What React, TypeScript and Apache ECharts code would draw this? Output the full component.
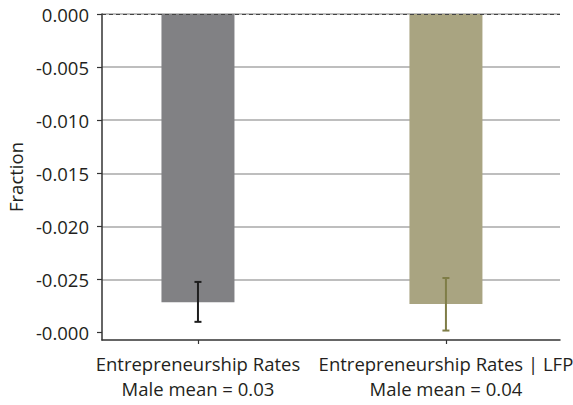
import React, { useEffect, useRef } from "react";
import * as echarts from "echarts";

// Regression coefficients (female minus male) with 95% confidence intervals
const categories = ["Entrepreneurship Rates", "Entrepreneurship Rates | LFP"];
const maleMeans = ["0.03", "0.04"];
const coefficients = [-0.02715, -0.0273];
const ciLow = [-0.02899, -0.02981];
const ciHigh = [-0.02523, -0.02486];

const yTickValues = [0, -0.005, -0.01, -0.015, -0.02, -0.025, -0.03];
const yTickLabels = ["0.000", "-0.005", "-0.010", "-0.015", "-0.020", "-0.025", "-0.000"];

const barColors = ["#818184", "#a9a481"];
const errorColors = ["#1e1e1e", "#7f7d47"];

const FONT = "'Open Sans', sans-serif";
const TEXT = "#231f20";
const FS = 18.5;

export default function App() {
  const ref = useRef<HTMLDivElement>(null);

  useEffect(() => {
    document.body.style.margin = "0";
    if (!ref.current) return;
    const chart = echarts.init(ref.current, undefined, { renderer: "svg" });

    const xPos = categories.map((_, i) => i + 1);

    chart.setOption({
      animation: false,
      textStyle: { fontFamily: FONT },
      grid: {
        left: 102,
        right: 13,
        top: 14,
        bottom: 65,
        containLabel: false,
        outerBoundsMode: "none",
      },
      xAxis: {
        type: "value",
        min: 0.613,
        max: 2.46,
        axisLine: { show: true, onZero: false, lineStyle: { color: "#333", width: 1.5 } },
        axisTick: { show: true, customValues: xPos, length: 4, lineStyle: { color: "#333", width: 1.2 } },
        axisLabel: {
          customValues: xPos,
          margin: 11,
          color: TEXT,
          fontSize: FS,
          fontFamily: FONT,
          lineHeight: 25,
          formatter: (v: number) => {
            const i = Math.round(v) - 1;
            return `${categories[i]}\nMale mean = ${maleMeans[i]}`;
          },
        },
        splitLine: { show: false },
      },
      yAxis: {
        type: "value",
        min: -0.0307,
        max: 0,
        name: "Fraction",
        nameLocation: "middle",
        nameGap: 75,
        nameTextStyle: { color: TEXT, fontSize: FS, fontFamily: FONT },
        axisLine: { show: true, lineStyle: { color: "#333", width: 1.5 } },
        axisTick: { show: true, customValues: yTickValues, length: 5, lineStyle: { color: "#333", width: 1.2 } },
        axisLabel: {
          customValues: yTickValues,
          margin: 13,
          color: TEXT,
          fontSize: FS,
          fontFamily: FONT,
          formatter: (v: number) => {
            const i = yTickValues.findIndex((t) => Math.abs(t - v) < 1e-7);
            return i >= 0 ? yTickLabels[i] : "";
          },
        },
        splitLine: {
          show: true,
          showMaxLine: false,
          lineStyle: { color: "#a9a9a9", width: 1.5 },
        },
      },
      series: [
        {
          type: "bar",
          barWidth: 73,
          data: coefficients.map((v, i) => ({
            value: [xPos[i], v],
            itemStyle: { color: barColors[i] },
          })),
          markLine: {
            silent: true,
            symbol: "none",
            label: { show: false },
            lineStyle: { color: "#444", type: [4, 3], width: 1.1 },
            data: [{ yAxis: 0 }],
          },
        },
        {
          type: "custom",
          data: coefficients.map((_, i) => [xPos[i], ciLow[i], ciHigh[i]]),
          renderItem: (params: any, api: any) => {
            const x = api.value(0);
            const lo = api.coord([x, api.value(1)]);
            const hi = api.coord([x, api.value(2)]);
            const color = errorColors[params.dataIndex];
            const half = 3.5;
            const style = { stroke: color, lineWidth: 2 };
            return {
              type: "group",
              children: [
                { type: "line", shape: { x1: lo[0], y1: lo[1], x2: hi[0], y2: hi[1] }, style },
                { type: "line", shape: { x1: lo[0] - half, y1: lo[1], x2: lo[0] + half, y2: lo[1] }, style },
                { type: "line", shape: { x1: hi[0] - half, y1: hi[1], x2: hi[0] + half, y2: hi[1] }, style },
              ],
            };
          },
          z: 5,
        },
      ],
    });

    return () => chart.dispose();
  }, []);

  return <div ref={ref} style={{ width: 573, height: 405 }} />;
}
